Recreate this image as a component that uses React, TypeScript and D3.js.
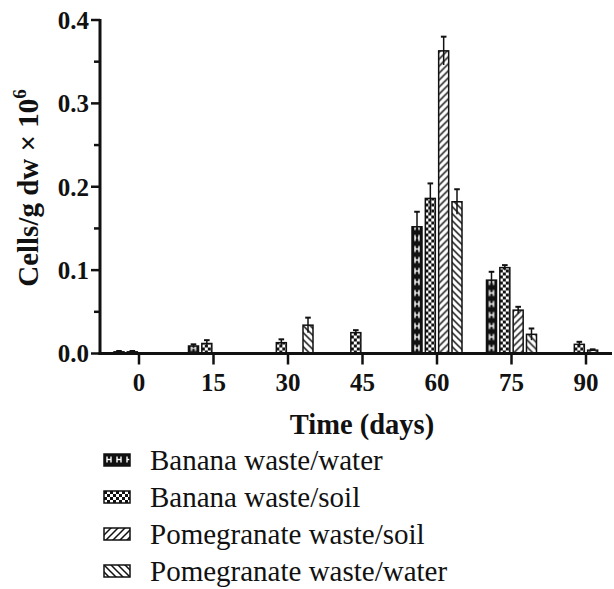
import React from "react";
import * as d3 from "d3";

const days = ["0", "15", "30", "45", "60", "75", "90"];
const seriesNames = [
  "Banana waste/water",
  "Banana waste/soil",
  "Pomegranate waste/soil",
  "Pomegranate waste/water",
];
const bananaWater = [0.002, 0.009, 0, 0, 0.152, 0.088, 0];
const bananaWaterErr = [0.001, 0.002, 0, 0, 0.018, 0.01, 0];
const bananaSoil = [0.002, 0.012, 0.013, 0.025, 0.186, 0.103, 0.011];
const bananaSoilErr = [0.001, 0.004, 0.004, 0.003, 0.018, 0.003, 0.003];
const pomSoil = [0, 0, 0, 0, 0.363, 0.052, 0.004];
const pomSoilErr = [0, 0, 0, 0, 0.017, 0.004, 0.001];
const pomWater = [0, 0, 0.034, 0, 0.182, 0.023, 0];
const pomWaterErr = [0, 0, 0.009, 0, 0.015, 0.007, 0];
const yTicks = [0, 0.1, 0.2, 0.3, 0.4];
const yMinorTicks = [0.05, 0.15, 0.25, 0.35];

const values = [bananaWater, bananaSoil, pomSoil, pomWater];
const errors = [bananaWaterErr, bananaSoilErr, pomSoilErr, pomWaterErr];

const FONT = "'Liberation Serif', 'Times New Roman', serif";

function PatternContent({ kind }: { kind: number }) {
  if (kind === 0) {
    return (
      <>
        <rect x={0} y={0} width={10} height={11} fill="#111" />
        <line x1={3} y1={2.5} x2={3} y2={8.5} stroke="#fff" strokeWidth={1.4} />
        <line x1={7} y1={2.5} x2={7} y2={8.5} stroke="#fff" strokeWidth={1.4} />
        <line x1={3} y1={5.5} x2={7} y2={5.5} stroke="#fff" strokeWidth={1.4} />
      </>
    );
  }
  if (kind === 1) {
    return (
      <>
        <rect x={0} y={0} width={6} height={6} fill="#fff" />
        <rect x={0} y={0} width={3} height={3} fill="#111" />
        <rect x={3} y={3} width={3} height={3} fill="#111" />
      </>
    );
  }
  if (kind === 2) {
    return (
      <>
        <rect x={0} y={0} width={7} height={7} fill="#fff" />
        <path d="M-1,8 L8,-1 M-1,1 L1,-1 M6,8 L8,6" stroke="#111" strokeWidth={1.5} />
      </>
    );
  }
  return (
    <>
      <rect x={0} y={0} width={7} height={7} fill="#fff" />
      <path d="M-1,-1 L8,8 M6,-1 L8,1 M-1,6 L1,8" stroke="#111" strokeWidth={1.5} />
    </>
  );
}

const patSize = [
  [10, 11],
  [6, 6],
  [7, 7],
  [7, 7],
];

export default function App() {
  const W = 614;
  const H = 589;
  const axisX = 100;
  const x0 = 139;
  const x1 = 586;
  const yTop = 20;
  const yBase = 353.5;

  const x = d3.scalePoint<string>().domain(days).range([x0, x1]);
  const inner = d3
    .scaleBand<number>()
    .domain([0, 1, 2, 3])
    .range([-25, 25])
    .paddingInner(0.25)
    .paddingOuter(0);
  const y = d3.scaleLinear().domain([0, 0.4]).range([yBase, yTop]);

  const bars: any[] = [];
  values.forEach((vals, s) => {
    vals.forEach((v, i) => {
      if (v <= 0) return;
      const bx = (x(days[i]) as number) + (inner(s) as number);
      bars.push({ s, i, v, e: errors[s][i], bx, bw: inner.bandwidth() });
    });
  });

  const legendBase = [470, 507, 544, 581];

  return (
    <svg
      width={W}
      height={H}
      style={{ position: "absolute", left: 0, top: 0, background: "#fff" }}
      fontFamily={FONT}
    >
      <defs>
        {bars.map((b) => (
          <pattern
            key={`p-${b.s}-${b.i}`}
            id={`p-${b.s}-${b.i}`}
            patternUnits="userSpaceOnUse"
            x={b.bx}
            y={yBase}
            width={patSize[b.s][0]}
            height={patSize[b.s][1]}
          >
            <PatternContent kind={b.s} />
          </pattern>
        ))}
        {seriesNames.map((n, s) => (
          <pattern
            key={`lp-${s}`}
            id={`lp-${s}`}
            patternUnits="userSpaceOnUse"
            x={104}
            y={legendBase[s] - 16}
            width={patSize[s][0]}
            height={patSize[s][1]}
          >
            <PatternContent kind={s} />
          </pattern>
        ))}
      </defs>
      <rect x={0} y={0} width={W} height={H} fill="#fff" />

      {/* bars */}
      {bars.map((b) => (
        <rect
          key={`b-${b.s}-${b.i}`}
          x={b.bx}
          y={y(b.v)}
          width={b.bw}
          height={yBase - y(b.v)}
          fill={`url(#p-${b.s}-${b.i})`}
          stroke="#111"
          strokeWidth={1.5}
        />
      ))}
      {/* error bars */}
      {bars.map((b) => {
        const cx = b.bx + b.bw / 2;
        const top = y(b.v + b.e);
        const bot = Math.min(y(b.v - b.e), yBase);
        return (
          <g key={`e-${b.s}-${b.i}`} stroke="#111" strokeWidth={1.5}>
            <line x1={cx} x2={cx} y1={top} y2={bot} />
            <line x1={cx - 2.8} x2={cx + 2.8} y1={top} y2={top} strokeWidth={2} />
          </g>
        );
      })}

      {/* y axis */}
      <line x1={axisX} x2={axisX} y1={yTop - 1} y2={yBase + 1.5} stroke="#111" strokeWidth={3} />
      {yTicks.map((t) => (
        <g key={`yt-${t}`}>
          <line x1={axisX - 9} x2={axisX} y1={y(t)} y2={y(t)} stroke="#111" strokeWidth={2.5} />
          <text
            x={axisX - 11}
            y={y(t)}
            dy="0.35em"
            textAnchor="end"
            fontSize={25}
            fontWeight="bold"
            fill="#111"
          >
            {d3.format(".1f")(t)}
          </text>
        </g>
      ))}
      {yMinorTicks.map((t) => (
        <line key={`ym-${t}`} x1={axisX - 6} x2={axisX} y1={y(t)} y2={y(t)} stroke="#111" strokeWidth={2.5} />
      ))}

      {/* x axis */}
      <line x1={axisX - 1.5} x2={612} y1={yBase} y2={yBase} stroke="#111" strokeWidth={3} />
      {days.map((d) => (
        <g key={`xt-${d}`}>
          <line
            x1={x(d) as number}
            x2={x(d) as number}
            y1={yBase}
            y2={yBase + 11}
            stroke="#111"
            strokeWidth={2.5}
          />
          <text
            x={x(d) as number}
            y={391}
            textAnchor="middle"
            fontSize={25}
            fontWeight="bold"
            fill="#111"
          >
            {d}
          </text>
        </g>
      ))}

      {/* axis titles */}
      <text x={362} y={434} textAnchor="middle" fontSize={28.5} fontWeight="bold" fill="#111">
        Time (days)
      </text>
      <text
        transform={`translate(38,188) rotate(-90)`}
        textAnchor="middle"
        fontSize={29}
        fontWeight="bold"
        fill="#111"
      >
        Cells/g dw × 10
        <tspan dy={-12} fontSize={19}>
          6
        </tspan>
      </text>

      {/* legend */}
      {seriesNames.map((n, s) => (
        <g key={`lg-${s}`}>
          <rect
            x={104}
            y={legendBase[s] - 16}
            width={26}
            height={12}
            fill={`url(#lp-${s})`}
            stroke="#111"
            strokeWidth={1.5}
          />
          <text x={150} y={legendBase[s]} fontSize={29} fill="#111">
            {n}
          </text>
        </g>
      ))}
    </svg>
  );
}
